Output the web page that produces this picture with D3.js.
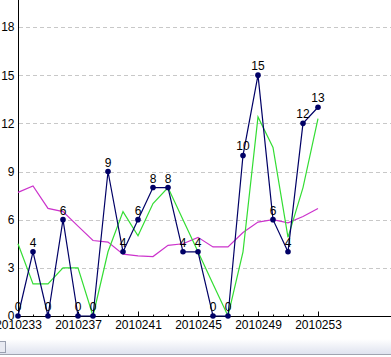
<!DOCTYPE html>
<html><head><meta charset="utf-8">
<script src="https://cdn.jsdelivr.net/npm/d3@7/dist/d3.min.js"></script>
<style>
html,body{margin:0;padding:0;background:#fff;overflow:hidden}
svg{display:block}
</style></head>
<body><svg id="c" width="391" height="357"></svg>
<script>
const categories = ["2010233","2010234","2010235","2010236","2010237","2010238","2010239","2010240","2010241","2010242","2010243","2010244","2010245","2010246","2010247","2010248","2010249","2010250","2010251","2010252","2010253"];
const countValues = [0,4,0,6,0,0,9,4,6,8,8,4,4,0,0,10,15,6,4,12,13];
const greenValues = [4.5,2,2,3,3,0,4,6.5,5,7,8,6,4,2,0,4,12.4,10.5,4.9,8,12.3];
const pinkValues = [7.7,8.1,6.7,6.5,5.6,4.7,4.6,3.85,3.75,3.7,4.4,4.5,4.9,4.3,4.3,5.2,5.85,6.0,5.8,6.2,6.7];
const yTicks = [0,3,6,9,12,15,18];
const xLabelTicks = ["2010233","2010237","2010241","2010245","2010249","2010253"];

const svg = d3.select("#c");
const W = 391, H = 357;
const x = d3.scalePoint().domain(categories).range([18, 318]);
const y = d3.scaleLinear().domain([0, 18]).range([316, 27]);
const font = "'Liberation Sans', Arial, sans-serif";

// grid
svg.append("g").selectAll("line").data(yTicks.filter(d => d > 0)).join("line")
  .attr("x1", 19).attr("x2", W)
  .attr("y1", d => Math.round(y(d)) + 0.5).attr("y2", d => Math.round(y(d)) + 0.5)
  .attr("stroke", "#c8c8c8").attr("stroke-dasharray", "4,3");

// y axis
const yAxis = svg.append("g").attr("transform", "translate(18.5,0)")
  .call(d3.axisLeft(y).tickValues(yTicks).tickSize(0).tickPadding(4));
yAxis.select(".domain").remove();
yAxis.append("line").attr("x1", 0).attr("x2", 0).attr("y1", 0).attr("y2", 316.5).attr("stroke", "#000");
yAxis.selectAll("text").attr("font-family", font).attr("font-size", 12).attr("fill", "#000");

// x axis
const xg = svg.append("g").attr("transform", "translate(0,316.5)");
xg.append("line").attr("x1", 18).attr("x2", W).attr("y1", 0).attr("y2", 0).attr("stroke", "#000");
const minor = xg.append("g").call(d3.axisBottom(x).tickValues(categories).tickSize(-2).tickFormat(""));
minor.select(".domain").remove();
const major = xg.append("g").call(d3.axisBottom(x).tickValues(xLabelTicks).tickSize(-5).tickPadding(2));
major.select(".domain").remove();
major.selectAll("text").attr("font-family", font).attr("font-size", 12).attr("fill", "#000").attr("dy", "0.85em");
xg.selectAll(".tick line").attr("stroke", "#000");

// pink line
const line = (vals) => d3.line().x((d, i) => x(categories[i])).y(d => y(d))(vals);
svg.append("path").attr("d", line(pinkValues)).attr("fill", "none").attr("stroke", "#cc33cc").attr("stroke-width", 1.2);
// green line
svg.append("path").attr("d", line(greenValues)).attr("fill", "none").attr("stroke", "#33dd33").attr("stroke-width", 1.2);
// navy line
svg.append("path").attr("d", line(countValues)).attr("fill", "none").attr("stroke", "#000066").attr("stroke-width", 1.2);
svg.append("g").selectAll("circle").data(countValues).join("circle")
  .attr("cx", (d, i) => x(categories[i])).attr("cy", d => y(d)).attr("r", 2.8).attr("fill", "#000066");
svg.append("g").selectAll("text").data(countValues).join("text")
  .attr("x", (d, i) => x(categories[i])).attr("y", d => y(d) - 5)
  .attr("text-anchor", "middle").attr("font-family", font).attr("font-size", 12).attr("fill", "#000")
  .text(d => d);

// bottom bar
const defs = svg.append("defs");
const gr = defs.append("linearGradient").attr("id", "bar").attr("x1", 0).attr("x2", 0).attr("y1", 0).attr("y2", 1);
gr.append("stop").attr("offset", "0%").attr("stop-color", "#ffffff");
gr.append("stop").attr("offset", "100%").attr("stop-color", "#dde1ee");
svg.append("rect").attr("x", 0).attr("y", 339).attr("width", W).attr("height", 16).attr("fill", "url(#bar)");
svg.append("line").attr("x1", 0).attr("x2", W).attr("y1", 354.5).attr("y2", 354.5).attr("stroke", "#a0a4b0");
svg.append("rect").attr("x", -1.5).attr("y", 341.5).attr("width", 7).attr("height", 11).attr("fill", "#e8eaf2").attr("stroke", "#9aa0b0");
</script></body></html>
